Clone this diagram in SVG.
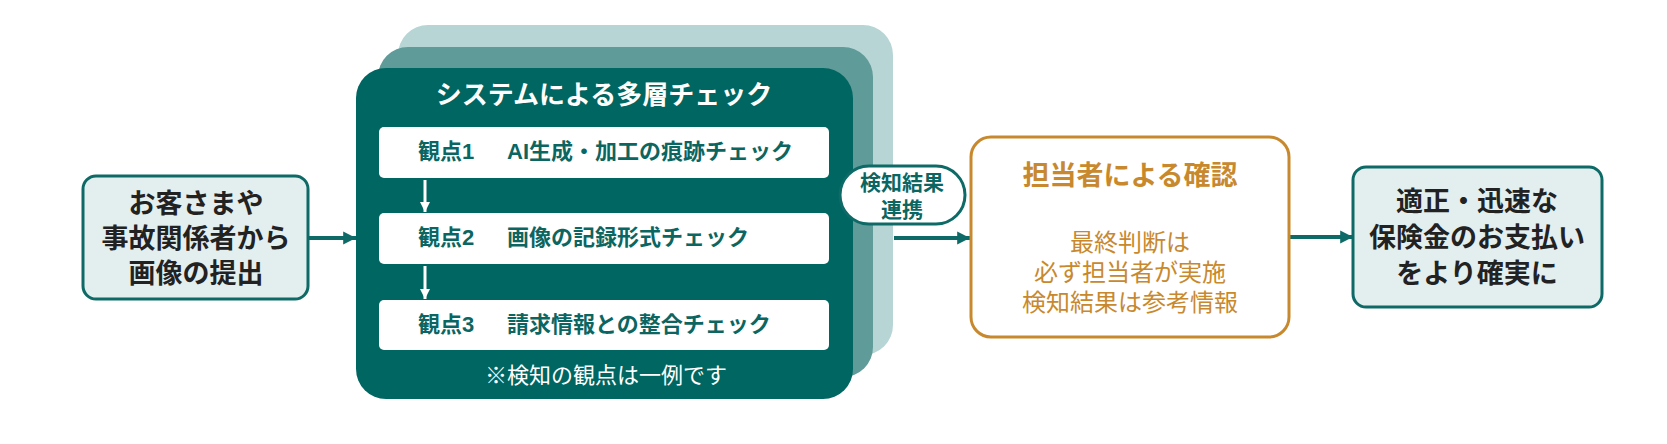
<svg xmlns="http://www.w3.org/2000/svg" width="1667" height="444" viewBox="0 0 1667 444">
<style>
text{font-family:"Liberation Sans","Noto Sans CJK JP",sans-serif;dominant-baseline:central}
.side{fill:#e3eeee;stroke:#0d6a66;stroke-width:3}
.sidet{font-size:27px;font-weight:bold;fill:#222;text-anchor:middle}
.wbox{fill:#ffffff}
.wt{font-size:22px;font-weight:bold;fill:#0b6662}
.conn{stroke:#0d6a66;stroke-width:4;fill:none}
.warr{stroke:#ffffff;stroke-width:3;fill:none}
.ot{fill:#c8892e;text-anchor:middle}
</style>
<defs>
<marker id="ah" viewBox="0 0 10 10" refX="10" refY="5" markerWidth="3.2" markerHeight="4" markerUnits="strokeWidth" orient="auto">
<path d="M0,0 L10,5 L0,10 z" fill="#0d6a66"/>
</marker>
<marker id="wah" viewBox="0 0 10 10" refX="10" refY="5" markerWidth="3.5" markerHeight="4" markerUnits="strokeWidth" orient="auto">
<path d="M0,0 L10,5 L0,10 z" fill="#ffffff"/>
</marker>
</defs>
<rect width="1667" height="444" fill="#ffffff"/>

<g id="connectors">
<line class="conn" x1="309" y1="238" x2="356" y2="238" marker-end="url(#ah)"/>
<line class="conn" x1="894" y1="238" x2="970" y2="238" marker-end="url(#ah)"/>
<line class="conn" x1="1290" y1="237" x2="1353" y2="237" marker-end="url(#ah)"/>
</g>

<g id="node-submit">
<rect class="side" x="83" y="176" width="225" height="123" rx="13"/>
<text class="sidet" x="196" y="204"><tspan x="196" y="204">お客さまや</tspan><tspan x="196" y="239">事故関係者から</tspan><tspan x="196" y="274">画像の提出</tspan></text>
</g>

<g id="node-system">
<rect x="398" y="25" width="495" height="330" rx="30" fill="#b7d5d5"/>
<rect x="378" y="47" width="495" height="330" rx="30" fill="#5f9b98"/>
<rect x="356" y="68" width="497" height="331" rx="30" fill="#006661"/>
<text x="604" y="95" font-size="26" font-weight="bold" fill="#ffffff" text-anchor="middle">システムによる多層チェック</text>
<rect class="wbox" x="379" y="127" width="450" height="51" rx="5"/>
<text class="wt" x="418" y="151">観点1</text>
<text class="wt" x="507" y="151">AI生成・加工の痕跡チェック</text>
<rect class="wbox" x="379" y="213" width="450" height="51" rx="5"/>
<text class="wt" x="418" y="237">観点2</text>
<text class="wt" x="507" y="237">画像の記録形式チェック</text>
<rect class="wbox" x="379" y="300" width="450" height="50" rx="5"/>
<text class="wt" x="418" y="324">観点3</text>
<text class="wt" x="507" y="324">請求情報との整合チェック</text>
<line class="warr" x1="425" y1="180" x2="425" y2="212" marker-end="url(#wah)"/>
<line class="warr" x1="425" y1="266" x2="425" y2="299" marker-end="url(#wah)"/>
<text x="606" y="375" font-size="22" fill="#ffffff" text-anchor="middle">※検知の観点は一例です</text>
</g>

<g id="label-link">
<rect x="840" y="166" width="125" height="58" rx="29" fill="#ffffff" stroke="#0d6a66" stroke-width="3"/>
<text x="902" y="182" font-size="21" font-weight="bold" fill="#0b6662" text-anchor="middle"><tspan x="902" y="182">検知結果</tspan><tspan x="902" y="209">連携</tspan></text>
</g>

<g id="node-staff">
<rect x="971" y="137" width="318" height="200" rx="20" fill="#ffffff" stroke="#c8892e" stroke-width="3"/>
<text class="ot" x="1130" y="176" font-size="27" font-weight="bold">担当者による確認</text>
<text class="ot" x="1130" y="242" font-size="24"><tspan x="1130" y="242">最終判断は</tspan><tspan x="1130" y="272">必ず担当者が実施</tspan><tspan x="1130" y="302">検知結果は参考情報</tspan></text>
</g>

<g id="node-result">
<rect class="side" x="1353" y="167" width="249" height="140" rx="13"/>
<text class="sidet" x="1477" y="202"><tspan x="1477" y="202">適正・迅速な</tspan><tspan x="1477" y="238">保険金のお支払い</tspan><tspan x="1477" y="274">をより確実に</tspan></text>
</g>
</svg>
